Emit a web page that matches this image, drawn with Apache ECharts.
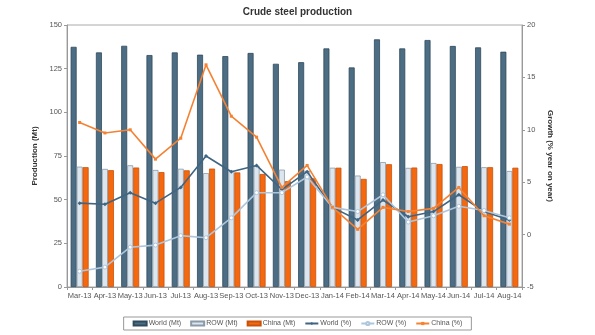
<!DOCTYPE html>
<html>
<head>
<meta charset="utf-8">
<script src="https://cdn.jsdelivr.net/npm/echarts@6/dist/echarts.min.js"></script>
<style>
  html, body { margin: 0; padding: 0; background: #fff; }
  #chart { width: 595px; height: 335px; }
</style>
</head>
<body>
<div id="chart"></div>
<script>
// Monthly crude steel output (Mt) and year-on-year growth (%)
const months = ['Mar-13','Apr-13','May-13','Jun-13','Jul-13','Aug-13','Sep-13','Oct-13','Nov-13',
                'Dec-13','Jan-14','Feb-14','Mar-14','Apr-14','May-14','Jun-14','Jul-14','Aug-14'];

const worldMt = [137.5,134.3,138.1,132.8,134.3,133.0,132.2,134.0,127.8,128.7,136.6,125.7,141.8,136.6,141.4,138.0,137.2,134.7];
const rowMt   = [68.9, 67.6, 69.7, 67.0, 67.7, 65.2, 66.6, 69.3, 67.2, 66.5, 68.3, 63.8, 71.5, 68.2, 71.0, 68.8, 68.6, 66.4];
const chinaMt = [68.6, 66.9, 68.4, 65.8, 66.8, 67.8, 65.6, 64.7, 60.6, 62.2, 68.3, 61.9, 70.3, 68.4, 70.4, 69.2, 68.6, 68.3];

const worldPct = [3.0, 2.9, 4.0, 3.0, 4.5, 7.5, 6.0, 6.6, 4.3, 6.0, 2.6, 1.4, 3.3, 1.7, 2.2, 3.8, 2.2, 1.4];
const rowPct   = [-3.5,-3.1,-1.2,-1.0,-0.1,-0.3, 1.6, 4.0, 4.0, 5.5, 2.6, 2.2, 3.8, 1.2, 1.8, 2.7, 2.3, 1.6];
const chinaPct = [10.7, 9.7,10.0, 7.2, 9.2,16.2,11.3, 9.3, 4.5, 6.6, 2.6, 0.5, 2.6, 2.2, 2.5, 4.5, 1.8, 1.0];

const leftTicks  = { min: 0, max: 150, step: 25 };
const rightTicks = { min: -5, max: 20, step: 5 };

const C = {
  world: '#4c6d83', worldEdge: '#2f4a5c',
  row: '#dde6ee', rowEdge: '#8a9aa8',
  china: '#f4680f', chinaEdge: '#c9520a',
  worldLine: '#3f6583', rowLine: '#aec6dc', chinaLine: '#f58233',
  text: '#555'
};

const chart = echarts.init(document.getElementById('chart'), null, { renderer: 'canvas' });

const FONT = 'Liberation Sans, Arial, sans-serif';
const axisFont = { fontFamily: FONT, fontSize: 7.5, color: C.text };

chart.setOption({
  animation: false,
  backgroundColor: '#fff',
  title: {
    text: 'Crude steel production',
    left: 'center', top: 2,
    textStyle: { fontFamily: FONT, fontSize: 10, fontWeight: 'bold', color: '#333' }
  },
  legend: {
    bottom: 5, left: 'center',
    itemWidth: 13, itemHeight: 4, itemGap: 9,
    padding: [3, 9],
    borderColor: '#999', borderWidth: 1,
    textStyle: { fontFamily: FONT, fontSize: 7, color: C.text, padding: [0, 0, 0, -3] },
    data: [
      { name: 'World (Mt)', icon: 'rect' },
      { name: 'ROW (Mt)', icon: 'rect' },
      { name: 'China (Mt)', icon: 'rect' },
      'World (%)', 'ROW (%)', 'China (%)'
    ]
  },
  grid: { left: 67, right: 73, top: 25, bottom: 48, show: true, borderColor: '#aaa', borderWidth: 1 },
  xAxis: {
    type: 'category',
    data: months,
    axisLine: { lineStyle: { color: '#999' } },
    axisTick: { show: true, alignWithLabel: false, length: 3, lineStyle: { color: '#999' } },
    axisLabel: Object.assign({ interval: 0, margin: 5 }, axisFont)
  },
  yAxis: [
    {
      type: 'value',
      min: leftTicks.min, max: leftTicks.max, interval: leftTicks.step,
      name: 'Production (Mt)', nameLocation: 'middle', nameGap: 27, nameRotate: 90,
      nameTextStyle: { fontFamily: FONT, fontSize: 8, fontWeight: 'bold', color: '#333' },
      axisLine: { show: true, lineStyle: { color: '#999' } },
      axisTick: { show: true, length: 3, lineStyle: { color: '#999' } },
      splitLine: { show: false },
      axisLabel: Object.assign({ margin: 5 }, axisFont)
    },
    {
      type: 'value',
      min: rightTicks.min, max: rightTicks.max, interval: rightTicks.step,
      name: 'Growth (% year on year)', nameLocation: 'middle', nameGap: 22, nameRotate: -90,
      nameTextStyle: { fontFamily: FONT, fontSize: 8, fontWeight: 'bold', color: '#333' },
      axisLine: { show: true, lineStyle: { color: '#999' } },
      axisTick: { show: true, length: 3, lineStyle: { color: '#999' } },
      splitLine: { show: false },
      axisLabel: Object.assign({ margin: 5 }, axisFont)
    }
  ],
  series: [
    {
      name: 'World (Mt)', type: 'bar', data: worldMt, barWidth: 6, barGap: '0%',
      itemStyle: { color: C.world, borderColor: C.worldEdge, borderWidth: 0.8 }
    },
    {
      name: 'ROW (Mt)', type: 'bar', data: rowMt, barWidth: 6, barGap: '0%',
      itemStyle: { color: C.row, borderColor: C.rowEdge, borderWidth: 0.8 }
    },
    {
      name: 'China (Mt)', type: 'bar', data: chinaMt, barWidth: 6, barGap: '0%',
      itemStyle: { color: C.china, borderColor: C.chinaEdge, borderWidth: 0.8 }
    },
    {
      name: 'World (%)', type: 'line', yAxisIndex: 1, data: worldPct,
      symbol: 'diamond', symbolSize: 4, showAllSymbol: true,
      lineStyle: { color: C.worldLine, width: 1.6 },
      itemStyle: { color: C.worldLine }
    },
    {
      name: 'ROW (%)', type: 'line', yAxisIndex: 1, data: rowPct,
      symbol: 'circle', symbolSize: 4, showAllSymbol: true,
      lineStyle: { color: C.rowLine, width: 1.6 },
      itemStyle: { color: '#fff', borderColor: C.rowLine, borderWidth: 1 }
    },
    {
      name: 'China (%)', type: 'line', yAxisIndex: 1, data: chinaPct,
      symbol: 'rect', symbolSize: 3, showAllSymbol: true,
      lineStyle: { color: C.chinaLine, width: 1.6 },
      itemStyle: { color: C.chinaLine }
    }
  ]
});
</script>
</body>
</html>
